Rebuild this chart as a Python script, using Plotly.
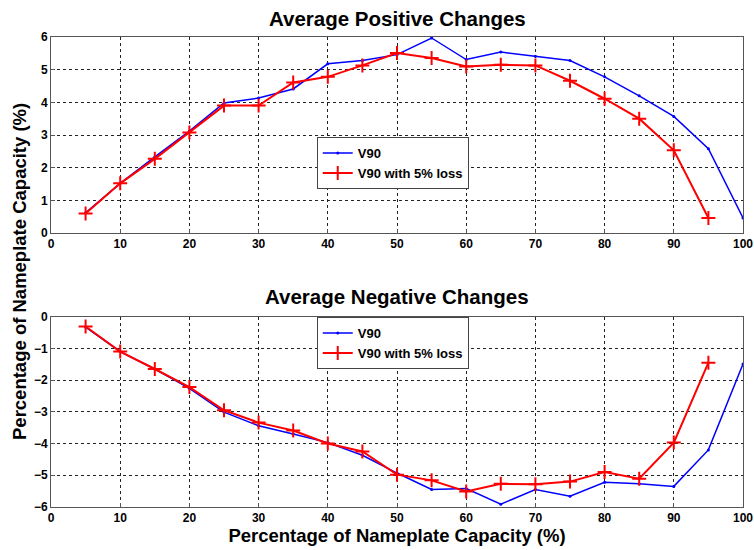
import plotly.graph_objects as go

x_pos_blue = [5, 10, 15, 20, 25, 30, 35, 40, 45, 50, 55, 60, 65, 70, 75, 80, 85, 90, 95, 100]
pos_blue = [0.62, 1.52, 2.33, 3.12, 3.98, 4.13, 4.41, 5.18, 5.28, 5.46, 5.97, 5.31, 5.54, 5.41, 5.28, 4.78, 4.2, 3.57, 2.58, 0.46]
x_pos_red = [5, 10, 15, 20, 25, 30, 35, 40, 45, 50, 55, 60, 65, 70, 75, 80, 85, 90, 95]
pos_red = [0.6, 1.52, 2.27, 3.08, 3.9, 3.9, 4.61, 4.78, 5.13, 5.51, 5.36, 5.1, 5.15, 5.13, 4.66, 4.11, 3.5, 2.53, 0.46]

neg_blue = [-0.33, -1.1, -1.65, -2.26, -3.01, -3.44, -3.70, -3.97, -4.37, -4.93, -5.45, -5.42, -5.91, -5.45, -5.66, -5.22, -5.27, -5.35, -4.2, -1.49]
neg_red = [-0.31, -1.1, -1.65, -2.22, -2.95, -3.34, -3.59, -4.0, -4.25, -4.98, -5.16, -5.51, -5.27, -5.28, -5.2, -4.9, -5.11, -3.97, -1.45]

x_ticks = list(range(0, 101, 10))
y_ticks_top = [0, 1, 2, 3, 4, 5, 6]
y_ticks_bot = [-6, -5, -4, -3, -2, -1, 0]

series_names = ["V90", "V90 with 5% loss"]
titles = ["Average Positive Changes", "Average Negative Changes"]
axis_title = "Percentage of Nameplate Capacity (%)"

FONT = "Liberation Sans, Arial, sans-serif"
BLUE = "#0000ff"
RED = "#ff0000"

fig = go.Figure()

def add_pair(xb, yb, xr, yr, xa, ya, legend):
    fig.add_trace(go.Scatter(x=xb, y=yb, mode="lines+markers", name=series_names[0],
                             line=dict(color=BLUE, width=1.5),
                             marker=dict(symbol="circle", size=3, color=BLUE),
                             xaxis=xa, yaxis=ya, legend=legend))
    fig.add_trace(go.Scatter(x=xr, y=yr, mode="lines+markers", name=series_names[1],
                             line=dict(color=RED, width=2),
                             marker=dict(symbol="cross-thin", size=10, color=RED,
                                         line=dict(color=RED, width=2)),
                             xaxis=xa, yaxis=ya, legend=legend))

add_pair(x_pos_blue, pos_blue, x_pos_red, pos_red, "x", "y", "legend")
add_pair(x_pos_blue, neg_blue, x_pos_red, neg_red, "x2", "y2", "legend2")

tickfont = dict(family=FONT, size=12, color="black", weight="bold")
common_x = dict(range=[0, 100], tickvals=x_ticks, showgrid=True, gridcolor="#222",
                griddash="dot", gridwidth=1, showline=True, linecolor="#555", linewidth=1,
                mirror=True, ticks="inside", ticklen=4, tickcolor="#555",
                tickfont=tickfont, zeroline=False, automargin=False)
common_y = dict(showgrid=True, gridcolor="#222", griddash="dot", gridwidth=1,
                showline=True, linecolor="#555", linewidth=1, mirror=True,
                ticks="inside", ticklen=4, tickcolor="#555", tickfont=tickfont,
                zeroline=False, automargin=False)

legend_common = dict(xanchor="left", yanchor="top", xref="paper", yref="paper",
                     bgcolor="white", bordercolor="#444", borderwidth=1,
                     font=dict(family=FONT, size=13, color="black", weight="bold"),
                     tracegroupgap=0, itemwidth=30)

fig.update_layout(
    width=754, height=550,
    margin=dict(l=51, r=11, t=37, b=43),
    paper_bgcolor="white", plot_bgcolor="white",
    font=dict(family=FONT, color="black"),
    xaxis=dict(domain=[0, 1], anchor="y", **common_x),
    yaxis=dict(domain=[0.583, 1], anchor="x", range=[0, 6], tickvals=y_ticks_top, **common_y),
    xaxis2=dict(domain=[0, 1], anchor="y2", **common_x,
                title=dict(text=axis_title, font=dict(family=FONT, size=18.5, weight="bold"), standoff=2)),
    yaxis2=dict(domain=[0, 0.405], anchor="x2", range=[-6, 0], tickvals=y_ticks_bot, **common_y),
    legend=dict(x=0.384, y=0.787, **legend_common),
    legend2=dict(x=0.384, y=0.404, **legend_common),
    annotations=[
        dict(text=titles[0], x=0.5, y=1.0, xref="paper", yref="paper", yanchor="middle",
             yshift=19, showarrow=False, font=dict(family=FONT, size=20.5, weight="bold")),
        dict(text=titles[1], x=0.5, y=0.405, xref="paper", yref="paper", yanchor="middle",
             yshift=20, showarrow=False, font=dict(family=FONT, size=20.5, weight="bold")),
        dict(text=axis_title, x=0, xref="paper", xshift=-32, y=0.5, yref="paper",
             textangle=-90, showarrow=False, xanchor="center", yanchor="middle",
             font=dict(family=FONT, size=18.5, weight="bold")),
    ],
)

fig.write_html("out.html", config={"displayModeBar": False},
               post_script="document.body.style.margin='0';document.body.style.padding='0';")
